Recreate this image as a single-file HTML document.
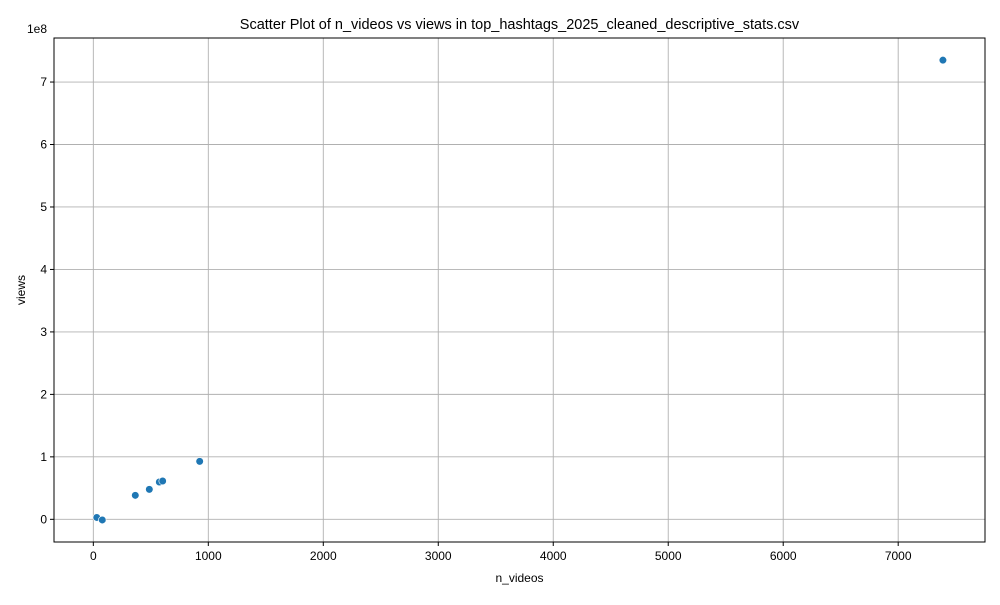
<!DOCTYPE html>
<html><head><meta charset="utf-8"><style>
body{margin:0;background:#fff;font-family:"Liberation Sans","DejaVu Sans",sans-serif}
</style></head><body>
<svg id="chart" width="1000" height="600" xmlns="http://www.w3.org/2000/svg" font-family="Liberation Sans, DejaVu Sans, sans-serif">
<text x="519.5" y="29" text-anchor="middle" font-size="14.5">Scatter Plot of n_videos vs views in top_hashtags_2025_cleaned_descriptive_stats.csv</text>
<text x="519.5" y="582" text-anchor="middle" font-size="12">n_videos</text>
<text transform="translate(25,290) rotate(-90)" text-anchor="middle" font-size="12">views</text>
<text x="27" y="33" font-size="12">1e8</text>
<g id="grid"></g><g id="pts"></g>
<rect x="54" y="38" width="931" height="504" fill="none" stroke="#000" stroke-width="1"/>
<g id="ticks"></g>
</svg>
<script>
const nVideos=[30,78,365,487,574,603,925,7389];
const views=[3e6,-1e6,3.84e7,4.8e7,5.97e7,6.13e7,9.28e7,7.35e8];
const xTicks=[0,1000,2000,3000,4000,5000,6000,7000];
const yTicks=[0,1,2,3,4,5,6,7];
const L=54,R=985,T=38,B=542;
const xMin=-342,xMax=7755,yMin=-0.363e8,yMax=7.705e8;
const X=v=>L+(v-xMin)/(xMax-xMin)*(R-L);
const Y=v=>B-(v-yMin)/(yMax-yMin)*(B-T);
const NS="http://www.w3.org/2000/svg";
function mk(t,a,p){const e=document.createElementNS(NS,t);for(const k in a)e.setAttribute(k,a[k]);p.appendChild(e);return e;}
const g=document.getElementById('grid'),tk=document.getElementById('ticks'),pg=document.getElementById('pts');
xTicks.forEach(v=>{const x=X(v);
const l=mk('line',{x1:x,x2:x,y1:T,y2:B,stroke:'#b0b0b0','stroke-width':0.9},g);


mk('line',{x1:x,x2:x,y1:B,y2:B+4,stroke:'#000'},tk);
const t=mk('text',{x:x,y:B+18,'text-anchor':'middle','font-size':12},tk);t.textContent=v;

});
yTicks.forEach(v=>{const y=Y(v*1e8);
const l=mk('line',{x1:L,x2:R,y1:y,y2:y,stroke:'#b0b0b0','stroke-width':0.9},g);


mk('line',{x1:L-4,x2:L,y1:y,y2:y,stroke:'#000'},tk);
const t=mk('text',{x:L-7,y:y+4,'text-anchor':'end','font-size':12},tk);t.textContent=v;

});
nVideos.forEach((v,i)=>{const c=mk('circle',{cx:X(v),cy:Y(views[i]),r:3.8,fill:'#1f77b4',stroke:'#fff','stroke-width':0.6},pg);

});
</script>
</body></html>
